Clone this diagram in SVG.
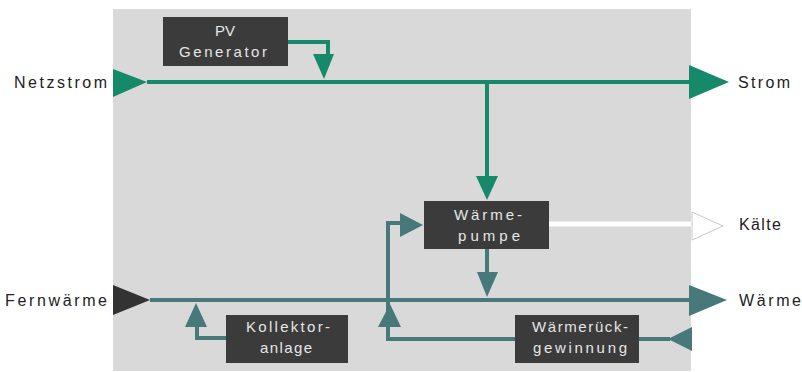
<svg xmlns="http://www.w3.org/2000/svg" width="802" height="372" viewBox="0 0 802 372">
<style>
.box{fill:#3b3b3b}
.bt{font-family:"Liberation Sans",Arial,sans-serif;font-size:15px;fill:#e6e6e6;text-anchor:middle}
.lb{font-family:"Liberation Sans",Arial,sans-serif;font-size:16px;fill:#222}
.g{stroke:#15896a;stroke-width:4;fill:none}
.t{stroke:#47797a;stroke-width:4;fill:none}
.ga{fill:#15896a}
.ta{fill:#47797a}
</style>
<rect x="113" y="9" width="578" height="362" fill="#d9d9d9"/>
<g id="connectors">
  <path class="g" d="M147 82 H689"/>
  <path class="g" d="M288 42 H328 V56"/>
  <path class="g" d="M487 82 V178"/>
  <polygon class="ga" points="113,69 147,82 113,97"/>
  <polygon class="ga" points="689,65 729,82 689,99"/>
  <polygon class="ga" points="313,54 334,54 324,79"/>
  <polygon class="ga" points="476,176 498,176 487,200"/>
  <path d="M549 224 H692" stroke="#ffffff" stroke-width="5" fill="none"/>
  <polygon points="692,212 723,226 692,240" fill="#ffffff" stroke="#c8c8c8" stroke-width="1"/>
  <path class="t" d="M150 300 H689"/>
  <polygon fill="#333333" points="113,285 150,300 113,315"/>
  <polygon class="ta" points="689,285 727,300 689,316"/>
  <path class="t" d="M487 249 V274"/>
  <polygon class="ta" points="477,272 498,272 487,297"/>
  <path class="t" d="M226 338 H197 V325"/>
  <polygon class="ta" points="185,327 207,327 196,303"/>
  <path class="t" d="M515 339 H388 V223 H402"/>
  <polygon class="ta" points="378,327 401,327 390,304"/>
  <polygon class="ta" points="400,213 423,225 400,237"/>
  <path class="t" d="M639 339 H670"/>
  <polygon class="ta" points="692,327 668,339 692,351"/>
</g>
<g id="pv">
  <rect class="box" x="163" y="17" width="125" height="49"/>
  <text class="bt" x="225" y="36">PV</text>
  <text class="bt" x="223" y="57" textLength="88" lengthAdjust="spacing">Generator</text>
</g>
<g id="waermepumpe">
  <rect class="box" x="424" y="201" width="125" height="48"/>
  <text class="bt" x="488" y="220" textLength="68" lengthAdjust="spacing">Wärme-</text>
  <text class="bt" x="489" y="241" textLength="62" lengthAdjust="spacing">pumpe</text>
</g>
<g id="kollektor">
  <rect class="box" x="226" y="315" width="122" height="48"/>
  <text class="bt" x="288" y="332" textLength="84" lengthAdjust="spacing">Kollektor-</text>
  <text class="bt" x="286" y="353" textLength="52" lengthAdjust="spacing">anlage</text>
</g>
<g id="waermerueck">
  <rect class="box" x="515" y="315" width="124" height="48"/>
  <text class="bt" x="580" y="332" textLength="96" lengthAdjust="spacing">Wärmerück-</text>
  <text class="bt" x="580" y="353" textLength="94" lengthAdjust="spacing">gewinnung</text>
</g>
<g id="labels">
  <text class="lb" x="14" y="88" textLength="93" lengthAdjust="spacing">Netzstrom</text>
  <text class="lb" x="738" y="88" textLength="52" lengthAdjust="spacing">Strom</text>
  <text class="lb" x="739" y="230" textLength="42" lengthAdjust="spacing">Kälte</text>
  <text class="lb" x="5" y="306" textLength="102" lengthAdjust="spacing">Fernwärme</text>
  <text class="lb" x="739" y="306" textLength="62" lengthAdjust="spacing">Wärme</text>
</g>
</svg>
